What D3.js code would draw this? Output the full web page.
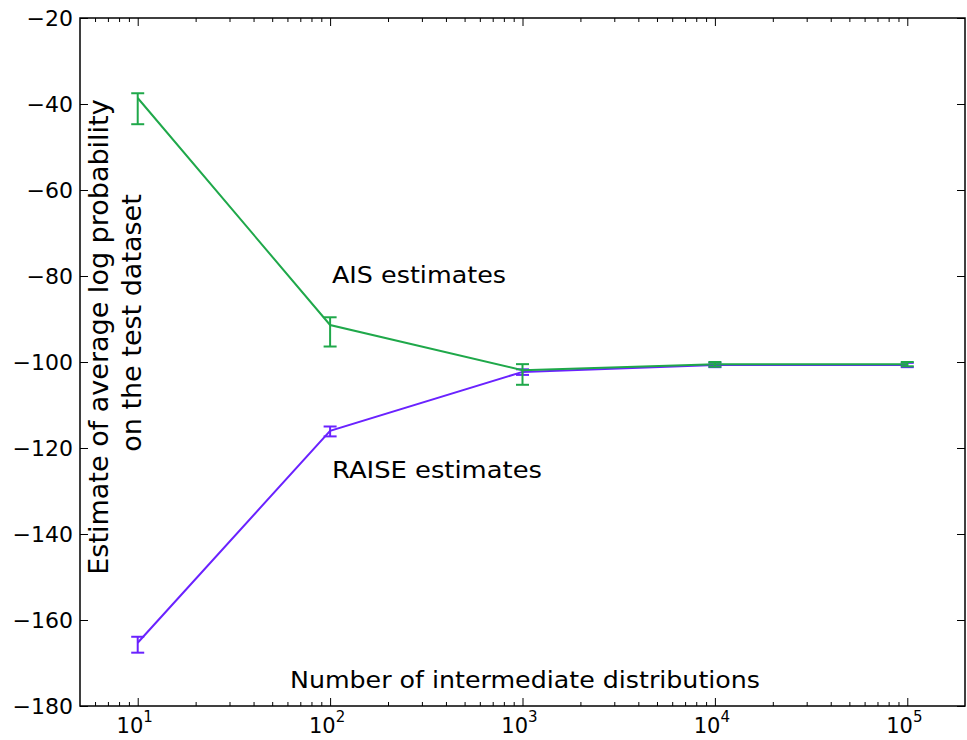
<!DOCTYPE html>
<html>
<head>
<meta charset="utf-8">
<script src="https://cdn.jsdelivr.net/npm/d3@7/dist/d3.min.js"></script>
<style>
  html, body { margin: 0; padding: 0; background: #fff; }
  svg { display: block; }
  text { font-family: "DejaVu Sans", Verdana, sans-serif; fill: #000; }
</style>
</head>
<body>
<svg id="chart" width="967" height="740"></svg>
<script>
// Number of intermediate distributions (x, log scale)
const steps = [10, 100, 1000, 10000, 100000];

// AIS estimates: centre and error-bar extent
const aisMean  = [-38.6, -91.4, -101.9, -100.5, -100.5];
const aisLow   = [-44.7, -96.4, -105.3, -101.1, -101.0];
const aisHigh  = [-37.5, -89.6, -100.5, -100.0, -100.0];

// RAISE estimates: centre and error-bar extent
const raiseMean = [-165.3, -116.0, -102.3, -100.7, -100.7];
const raiseLow  = [-167.6, -117.3, -103.0, -101.2, -101.2];
const raiseHigh = [-163.9, -115.0, -101.7, -100.2, -100.2];

const yTicks = [-20, -40, -60, -80, -100, -120, -140, -160, -180];
const xTickExps = [1, 2, 3, 4, 5];

const svg = d3.select("#chart");
const plotL = 80, plotR = 965, plotT = 18, plotB = 706;

const x = d3.scaleLog().domain([Math.pow(10, 0.7), Math.pow(10, 5.3)]).range([plotL, plotR]);
const y = d3.scaleLinear().domain([-180, -20]).range([plotB, plotT]);

const axisColor = "#000";

// Minor ticks on the log axis (2..9 in each decade within the domain)
const minor = [];
for (let e = 0; e <= 5; e++) {
  for (let m = 2; m <= 9; m++) {
    const v = m * Math.pow(10, e);
    if (v >= x.domain()[0] && v <= x.domain()[1]) minor.push(v);
  }
}

const g = svg.append("g");

// bottom and top ticks pointing into the plot
const xMajorVals = xTickExps.map(e => Math.pow(10, e));
g.append("g").attr("transform", `translate(0,${plotB})`)
  .call(d3.axisTop(x).tickValues(xMajorVals).tickSize(8).tickFormat(""))
  .call(a => a.select(".domain").remove());
g.append("g").attr("transform", `translate(0,${plotB})`)
  .call(d3.axisTop(x).tickValues(minor).tickSize(4).tickFormat(""))
  .call(a => a.select(".domain").remove());
g.append("g").attr("transform", `translate(0,${plotT})`)
  .call(d3.axisBottom(x).tickValues(xMajorVals).tickSize(8).tickFormat(""))
  .call(a => a.select(".domain").remove());
g.append("g").attr("transform", `translate(0,${plotT})`)
  .call(d3.axisBottom(x).tickValues(minor).tickSize(4).tickFormat(""))
  .call(a => a.select(".domain").remove());

// left and right ticks pointing into the plot
g.append("g").attr("transform", `translate(${plotL},0)`)
  .call(d3.axisRight(y).tickValues(yTicks).tickSize(8).tickFormat(""))
  .call(a => a.select(".domain").remove());
g.append("g").attr("transform", `translate(${plotR},0)`)
  .call(d3.axisLeft(y).tickValues(yTicks).tickSize(8).tickFormat(""))
  .call(a => a.select(".domain").remove());

g.selectAll(".tick line").attr("stroke", axisColor).attr("stroke-width", 1);

// y tick labels
g.append("g").selectAll("text").data(yTicks).join("text")
  .attr("x", plotL - 7)
  .attr("y", d => y(d))
  .attr("dy", "0.36em")
  .attr("text-anchor", "end")
  .style("font-size", "22px")
  .text(d => "\u2212" + Math.abs(d));

// x tick labels: 10 with superscript exponent
const xl = g.append("g").selectAll("text").data(xTickExps).join("text")
  .attr("x", d => x(Math.pow(10, d)) - 3)
  .attr("y", 733)
  .attr("text-anchor", "middle")
  .style("font-size", "21px");
xl.append("tspan").text("10");
xl.append("tspan").attr("dy", -11).style("font-size", "15px").text(d => d);

// frame
svg.append("rect")
  .attr("x", plotL).attr("y", plotT)
  .attr("width", plotR - plotL).attr("height", plotB - plotT)
  .attr("fill", "none").attr("stroke", axisColor).attr("stroke-width", 1.5);

function series(mean, low, high, color) {
  const line = d3.line().x((d, i) => x(steps[i])).y(d => y(d));
  svg.append("path").datum(mean)
    .attr("d", line)
    .attr("fill", "none")
    .attr("stroke", color)
    .attr("stroke-width", 2);
  const eb = svg.append("g").attr("stroke", color).attr("stroke-width", 2);
  steps.forEach((s, i) => {
    const cx = x(s);
    eb.append("line").attr("x1", cx).attr("x2", cx).attr("y1", y(low[i])).attr("y2", y(high[i]));
    eb.append("line").attr("x1", cx - 6.5).attr("x2", cx + 6.5).attr("y1", y(low[i])).attr("y2", y(low[i]));
    eb.append("line").attr("x1", cx - 6.5).attr("x2", cx + 6.5).attr("y1", y(high[i])).attr("y2", y(high[i]));
  });
}

series(raiseMean, raiseLow, raiseHigh, "#6a22ff");
series(aisMean, aisLow, aisHigh, "#1fa84a");

// annotations (wide face: stretch to the label widths)
svg.append("text").attr("x", 332).attr("y", 283).style("font-size", "23px")
  .attr("textLength", 174).attr("lengthAdjust", "spacingAndGlyphs").text("AIS estimates");
svg.append("text").attr("x", 332).attr("y", 478).style("font-size", "23px")
  .attr("textLength", 210).attr("lengthAdjust", "spacingAndGlyphs").text("RAISE estimates");

// axis titles placed inside the frame
svg.append("text").attr("x", 290).attr("y", 688)
  .style("font-size", "23px")
  .attr("textLength", 470).attr("lengthAdjust", "spacingAndGlyphs")
  .text("Number of intermediate distributions");

svg.append("text")
  .attr("transform", "translate(108,337) rotate(-90)")
  .attr("text-anchor", "middle")
  .style("font-size", "27px")
  .text("Estimate of average log probability");
svg.append("text")
  .attr("transform", "translate(141,323) rotate(-90)")
  .attr("text-anchor", "middle")
  .style("font-size", "27px")
  .text("on the test dataset");
</script>
</body>
</html>
